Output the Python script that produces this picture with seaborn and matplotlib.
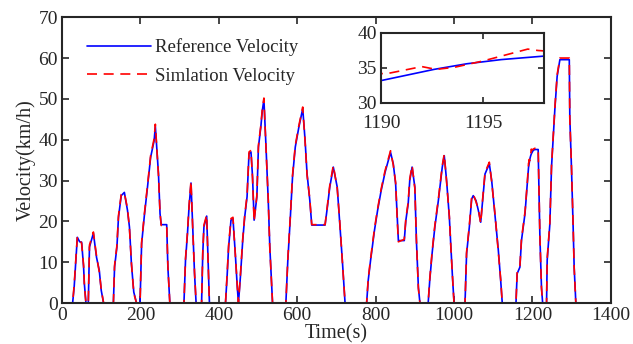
import numpy as np
import pandas as pd
import seaborn as sns
import matplotlib
matplotlib.use("Agg")
import matplotlib.pyplot as plt

# Reference velocity profile (time in s, velocity in km/h)
ref_time = [0, 27, 31, 35, 39, 45, 50, 55, 57, 61, 67, 70, 80, 88, 95, 100, 106,
            131, 134, 140, 144, 151, 159, 167, 172, 177, 183, 190, 199, 203, 210,
            218, 226, 235, 238, 246, 250, 253, 267, 270, 275, 311, 315, 320, 324,
            329, 334, 338, 342, 356, 359, 362, 369, 372, 376, 417, 421, 425, 431,
            436, 442, 447, 450, 455, 461, 466, 472, 477, 482, 486, 490, 497, 501,
            507, 511, 515, 520, 526, 530, 534, 537, 571, 576, 582, 588, 595, 604,
            614, 620, 625, 632, 637, 671, 677, 683, 692, 702, 708, 715, 722, 777,
            781, 787, 797, 805, 814, 824, 838, 845, 851, 855, 858, 873, 877, 883,
            887, 893, 900, 904, 909, 913, 934, 938, 944, 951, 960, 970, 975, 981,
            988, 992, 996, 1000, 1028, 1032, 1039, 1045, 1049, 1056, 1062, 1068,
            1073, 1079, 1090, 1096, 1105, 1113, 1119, 1123, 1158, 1161, 1168, 1172,
            1181, 1187, 1190, 1192.6, 1194.2, 1195.9, 1198, 1202, 1206, 1214.6,
            1219, 1223, 1226, 1236, 1237.6, 1244.4, 1248.7, 1257.2, 1263, 1270,
            1294, 1295.3, 1299.5, 1303.8, 1306.4, 1310.7, 1320]
ref_speed = [0, 0, 4, 10, 16.1, 15, 14.9, 8.8, 4.7, 0, 0, 13.7, 17.1, 11.2, 8, 3.1, 0,
             0, 8.8, 13.7, 21, 26.3, 27.1, 22.7, 18.6, 9.6, 2.7, 0, 0, 14.5, 21.4,
             28.4, 35.7, 39.8, 43.3, 31.7, 21.9, 19.2, 19.2, 8.8, 0, 0, 10.5, 17, 23.5,
             29.4, 17, 7.2, 0, 0, 12.1, 18.7, 21.3, 12.1, 0, 0, 6.4, 13.8, 20.3,
             20.7, 12.1, 4, 0, 6.4, 15.4, 21.1, 26, 36.6, 37, 30.9, 20.3, 26, 38.2,
             43, 47.2, 49.8, 39, 25.2, 13.8, 5.6, 0, 0, 10.5, 20.3, 30.9, 38.2, 43,
             47.6, 39.9, 31.7, 25.2, 19.1, 19.1, 23.6, 28.4, 33.3, 28.4, 20.3, 10.5, 0, 0,
             5.5, 10.4, 17.8, 22.7, 27.5, 32, 36.9, 34.1, 29.2, 21, 15.3, 15.3, 20.2, 24.3,
             30, 33.3, 28.4, 15.3, 3.9, 0, 0, 5.5, 12.1, 18.6, 25.1, 33.3, 36.1, 30,
             21, 13.7, 6.4, 0, 0, 12.1, 18.6, 25.5, 26.3, 25.1, 22.7, 19.8,
             25.1, 31.6, 34.1, 30, 21, 12.9, 5.5, 0, 0, 7.2, 8.8, 15.3,
             21.9, 29.3, 33.2, 34.8, 35.6, 36.2, 36.7, 37.4, 37.6, 37.6,
             16.2, 4, 0, 0, 10.5, 19.3, 33.4, 47.5, 55.5, 59.6,
             59.6, 45.6, 33.3, 18.7, 8.9, 0, 0]

# Simulated velocity profile
sim_time = [0, 27, 31, 35, 39, 45, 50, 55, 57, 61, 67, 70, 80, 88, 95, 100, 106,
            131, 134, 140, 144, 151, 159, 167, 172, 177, 183, 190, 199, 203, 210,
            218, 226, 235, 238, 246, 250, 253, 267, 270, 275, 311, 315, 320, 324,
            329, 334, 338, 342, 356, 359, 362, 369, 372, 376, 417, 421, 425, 431,
            436, 442, 447, 450, 455, 461, 466, 472, 477, 482, 486, 490, 497, 501,
            507, 511, 515, 520, 526, 530, 534, 537, 571, 576, 582, 588, 595, 604,
            614, 620, 625, 632, 637, 671, 677, 683, 692, 702, 708, 715, 722, 777,
            781, 787, 797, 805, 814, 824, 838, 845, 851, 855, 858, 873, 877, 883,
            887, 893, 900, 904, 909, 913, 934, 938, 944, 951, 960, 970, 975, 981,
            988, 992, 996, 1000, 1028, 1032, 1039, 1045, 1049, 1056, 1062, 1068,
            1073, 1079, 1090, 1096, 1105, 1113, 1119, 1123, 1158, 1161, 1168, 1172,
            1181, 1187, 1190, 1190.3, 1192, 1192.7, 1193.6, 1195, 1197.2, 1197.7,
            1198.2, 1202, 1206, 1214.6, 1219, 1223, 1226, 1236, 1237.6, 1244.4,
            1248.7, 1257.2, 1263, 1270, 1294, 1295.3, 1299.5, 1303.8, 1306.4,
            1310.7, 1320]
sim_speed = [0, 0, 4.5, 10.5, 16.3, 15.6, 14.6, 9.2, 4.3, 0, 0, 14.2, 17.4, 11.5, 7.6, 3.4, 0,
             0, 9.2, 14.1, 21.4, 26.6, 27.0, 23.1, 18.3, 9.9, 2.4, 0, 0, 14.9, 21.8,
             28.8, 36.1, 40.3, 43.8, 31.3, 22.2, 19.0, 19.0, 9.1, 0, 0, 10.9, 17.4, 23.9,
             29.9, 16.6, 7.5, 0, 0, 12.5, 19.1, 21.6, 11.8, 0, 0, 6.8, 14.2, 20.7,
             21.0, 11.8, 4.3, 0, 6.8, 15.8, 21.5, 26.4, 37.0, 37.4, 30.5, 20.0, 26.4, 38.6,
             43.4, 47.6, 50.2, 38.6, 25.5, 13.5, 5.9, 0, 0, 10.9, 20.7, 31.3, 38.6, 43.4,
             48.0, 39.5, 31.4, 25.5, 19.2, 19.2, 24.0, 28.8, 33.7, 28.1, 20.6, 10.2, 0, 0,
             5.9, 10.8, 18.2, 23.1, 27.9, 32.4, 37.3, 33.8, 29.5, 20.7, 15.0, 15.6, 20.6, 24.7,
             30.4, 33.7, 28.1, 15.6, 3.6, 0, 0, 5.9, 12.5, 19.0, 25.5, 33.7, 36.5, 29.7,
             21.3, 13.4, 6.7, 0, 0, 12.5, 19.0, 25.9, 26.7, 24.8, 23.0, 19.5,
             25.5, 32.0, 34.5, 29.7, 21.3, 12.6, 5.8, 0, 0, 7.6, 9.1, 15.7,
             22.3, 29.7, 34.2, 34.2, 35.2, 34.8, 35.1, 36.0, 37.7, 37.5,
             37.4, 37.7, 37.9, 37.9, 16.5, 3.7, 0, 0, 10.9, 19.7,
             33.8, 47.9, 55.9, 60.0, 60.0, 45.2, 33.7, 19.1, 8.6, 0, 0]

ref_df = pd.DataFrame({"time": ref_time, "speed": ref_speed})
sim_df = pd.DataFrame({"time": sim_time, "speed": sim_speed})

sns.set_style("ticks")
plt.rcParams["font.family"] = ["Liberation Serif", "DejaVu Serif"]
plt.rcParams["xtick.direction"] = "in"
plt.rcParams["ytick.direction"] = "in"

fig = plt.figure(figsize=(6.33, 3.44), dpi=100)
ax = fig.add_axes([0.098, 0.119, 0.867, 0.831])

sns.lineplot(data=ref_df, x="time", y="speed", ax=ax, color="#0000ff", lw=1.2,
             estimator=None, sort=False, label="Reference Velocity")
sns.lineplot(data=sim_df, x="time", y="speed", ax=ax, color="#ff0000", lw=1.2,
             linestyle=(0, (6, 4)), estimator=None, sort=False,
             label="Simlation Velocity")

ax.set_xlim(0, 1400)
ax.set_ylim(0, 70)
ax.set_xticks(np.arange(0, 1401, 200))
ax.set_yticks(np.arange(0, 71, 10))
ax.set_xlabel("Time(s)", fontsize=14.5, labelpad=0)
ax.set_ylabel("Velocity(km/h)", fontsize=14.5, labelpad=2)
ax.tick_params(labelsize=14, top=True, right=True, length=5, width=1.2, pad=3)
for s in ax.spines.values():
    s.set_linewidth(1.5)
    s.set_visible(True)

ax.legend(loc="upper left", bbox_to_anchor=(0.015, 0.985), frameon=False,
          fontsize=13.5, handlelength=3.4, handletextpad=0.2, labelspacing=0.6)

# inset zoom around t = 1190 - 1198
axin = fig.add_axes([0.602, 0.7006, 0.2575, 0.2035])
sns.lineplot(data=ref_df, x="time", y="speed", ax=axin, color="#0000ff", lw=1.2,
             estimator=None, sort=False, legend=False)
sns.lineplot(data=sim_df, x="time", y="speed", ax=axin, color="#ff0000", lw=1.2,
             linestyle=(0, (6, 4)), estimator=None, sort=False, legend=False)
axin.set_xlim(1190, 1198)
axin.set_ylim(30, 40)
axin.set_xticks([1190, 1195])
axin.set_yticks([30, 35, 40])
axin.set_xlabel("")
axin.set_ylabel("")
axin.tick_params(labelsize=14, top=True, right=True, length=4, width=1.2, pad=3)
axin.tick_params(axis="x", pad=9)
for s in axin.spines.values():
    s.set_linewidth(1.5)
    s.set_visible(True)

fig.savefig("out.png", dpi=100)
